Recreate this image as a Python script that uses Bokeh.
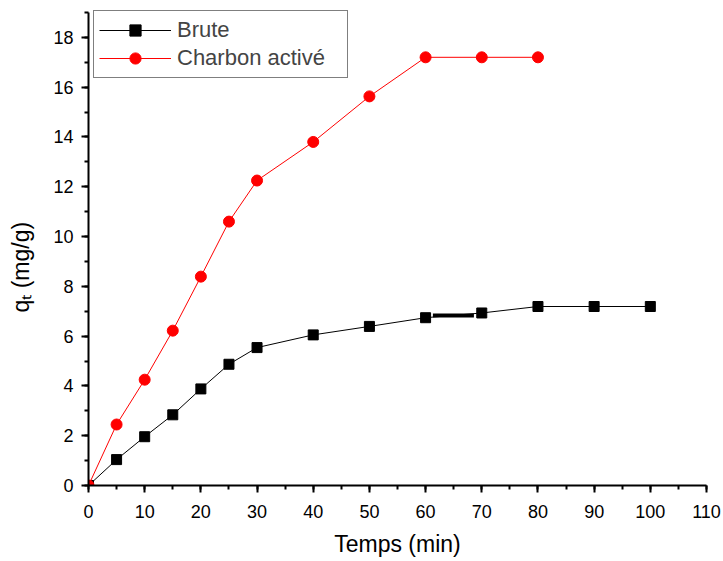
from bokeh.plotting import figure
from bokeh.models import Range1d, SingleIntervalTicker, Legend, LegendItem
from bokeh.embed import file_html
from bokeh.resources import INLINE

# ---- data ----
brute_t = [0, 5, 10, 15, 20, 25, 30, 40, 50, 60, 70, 80, 90, 100]
brute_q = [0.0, 1.04, 1.96, 2.84, 3.88, 4.87, 5.54, 6.05, 6.39, 6.74, 6.93, 7.19, 7.19, 7.19]
charbon_t = [0, 5, 10, 15, 20, 25, 30, 40, 50, 60, 70, 80]
charbon_q = [0.0, 2.45, 4.25, 6.22, 8.39, 10.6, 12.25, 13.8, 15.63, 17.2, 17.2, 17.2]
# small thick stroke visible between 60 and 70 min on the Brute curve
seg_t = [61.3, 68.6]
seg_q = [6.83, 6.83]

FONT = "Liberation Sans"

p = figure(width=723, height=561, output_backend="svg", toolbar_location=None,
           x_range=Range1d(0, 110), y_range=Range1d(0, 19.08),
           min_border_left=88, min_border_right=17, min_border_top=10, min_border_bottom=76)
p.outline_line_color = None
p.grid.visible = False
p.background_fill_color = "white"
p.border_fill_color = "white"

for ax in (p.xaxis[0], p.yaxis[0]):
    ax.axis_line_width = 2
    ax.major_tick_line_width = 2
    ax.minor_tick_line_width = 2
    ax.major_tick_in = 0
    ax.major_tick_out = 7
    ax.minor_tick_in = 0
    ax.minor_tick_out = 4
    ax.major_label_text_font = FONT
    ax.major_label_text_font_size = "18px"
    ax.major_label_text_color = "black"
    ax.axis_label_text_font = FONT
    ax.axis_label_text_font_size = "23px"
    ax.axis_label_text_font_style = "normal"
    ax.axis_label_text_color = "black"

p.xaxis[0].ticker = SingleIntervalTicker(interval=10, num_minor_ticks=2)
p.yaxis[0].ticker = SingleIntervalTicker(interval=2, num_minor_ticks=2)
p.yaxis[0].bounds = (0, 19)
p.xaxis[0].major_label_standoff = 12
p.yaxis[0].major_label_standoff = 8
p.xaxis[0].axis_label = "Temps (min)"
p.xaxis[0].axis_label_standoff = 10
# trailing no-break spaces shift the centred title towards the bottom, as in the original
p.yaxis[0].axis_label = "qₜ (mg/g)" + "\u00a0" * 6
p.yaxis[0].axis_label_standoff = 16

# series
l1 = p.line(brute_t, brute_q, line_color="black", line_width=1)
s1 = p.scatter(brute_t, brute_q, marker="square", size=10, fill_color="black", line_color="black")
p.line(seg_t, seg_q, line_color="black", line_width=4)
l2 = p.line(charbon_t, charbon_q, line_color="#ff0000", line_width=1)
s2 = p.scatter(charbon_t, charbon_q, marker="circle", size=11, fill_color="#ff0000", line_color="#ff0000")

legend = Legend(items=[LegendItem(label="Brute", renderers=[l1, s1]),
                       LegendItem(label="Charbon activé", renderers=[l2, s2])],
                location=(5, 407), margin=0, padding=5, spacing=0,
                glyph_width=72, glyph_height=28, label_height=28, label_width=165,
                label_standoff=6, label_text_font=FONT, label_text_font_size="22px",
                border_line_color="black", border_line_width=1, background_fill_alpha=1)
p.add_layout(legend, "center")

open("out.html", "w").write(file_html(p, INLINE))
